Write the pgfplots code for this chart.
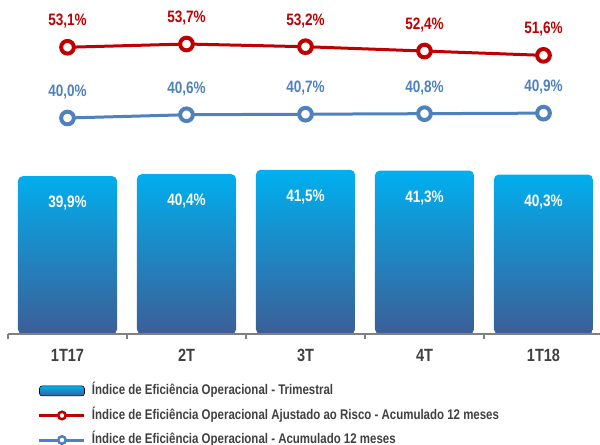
\documentclass[border=0pt]{standalone}
\usepackage{fontspec}
\setmainfont{Liberation Sans}[FakeStretch=0.82]
\usepackage{pgfplots}
\pgfplotsset{compat=1.18}
\definecolor{barTop}{HTML}{00B0F0}
\definecolor{barBot}{HTML}{3C5E96}
\definecolor{redL}{HTML}{C00000}
\definecolor{blueL}{HTML}{4F81BD}
\definecolor{txt}{HTML}{404040}
\definecolor{axisG}{HTML}{808080}
\newcommand\lblfont{\fontsize{12.4}{14}\selectfont\bfseries}
\pgfkeys{/pgf/number format/.cd, use comma, fixed, fixed zerofill, precision=1, assume math mode=true}
\begin{document}
\begin{tikzpicture}[x=1pt,y=1pt]
\useasboundingbox (0,0) rectangle (450,333.75);
\begin{axis}[
  at={(6pt,83.25pt)}, anchor=south west,
  scale only axis, width=446.25pt, height=237.3pt,
  xmin=-0.5, xmax=4.5, ymin=0, ymax=80,
  axis x line*=bottom, axis y line=none,
  axis on top,
  x axis line style={draw=axisG, line width=1.1pt},
  xtick={0,1,2,3,4}, xticklabels={1T17,2T,3T,4T,1T18},
  major tick length=0pt,
  minor xtick={-0.5,0.5,1.5,2.5,3.5,4.5},
  minor tick length=4pt,
  tick align=outside,
  minor tick style={draw=axisG, line width=1.1pt},
  xticklabel style={anchor=center, yshift=-15.75pt, font=\fontsize{13.3}{15}\selectfont\bfseries, text=txt},
  ybar, bar width=74.25pt,
  nodes near coords={\pgfmathprintnumber{\pgfplotspointmeta}\%},
  every node near coord/.append style={anchor=center, yshift=-20.25pt, text=white, font=\lblfont},
  clip=false,
]
\addplot[draw=none, top color=barTop, bottom color=barBot, rounded corners=3.5pt]
  coordinates {(0,39.9) (1,40.4) (2,41.5) (3,41.3) (4,40.3)};
\end{axis}
\begin{axis}[
  at={(6pt,83.25pt)}, anchor=south west,
  scale only axis, width=446.25pt, height=237.3pt,
  xmin=-0.5, xmax=4.5, ymin=0, ymax=58.593,
  hide axis, clip=false,
  legend style={at={(0.0504,-0.160)}, anchor=north west, draw=none, fill=none,
    inner sep=0pt, outer sep=0pt, row sep=8.9pt, column sep=4.5pt,
    font=\fontsize{10.5}{12}\selectfont\bfseries, text=txt,
    nodes={inner sep=0pt, text height=7.5pt, text depth=2pt}},
  legend cell align=left,
]
\addlegendimage{legend image code/.code={\shade[top color=barTop, bottom color=barBot, rounded corners=2pt] (0pt,-3.75pt) rectangle (33.75pt,3.75pt);}}
\addlegendentry{Índice de Eficiência Operacional - Trimestral}
\addplot[redL, line width=2.25pt, mark=*, mark size=4.76pt,
  mark options={fill=white, draw=redL, line width=3pt},
  nodes near coords={\pgfmathprintnumber{\pgfplotspointmeta}\%},
  every node near coord/.append style={text=redL, anchor=center, yshift=19.5pt, font=\lblfont},
  legend image code/.code={\draw[redL, line width=2.25pt] (0pt,0pt) -- (33.75pt,0pt);
    \draw[redL, fill=white, line width=1.9pt] (16.875pt,0pt) circle (2.8pt);}]
  coordinates {(0,53.1) (1,53.7) (2,53.2) (3,52.4) (4,51.6)};
\addlegendentry{Índice de Eficiência Operacional Ajustado ao Risco - Acumulado 12 meses}
\addplot[blueL, line width=2.25pt, mark=*, mark size=4.76pt,
  mark options={fill=white, draw=blueL, line width=3pt},
  nodes near coords={\pgfmathprintnumber{\pgfplotspointmeta}\%},
  every node near coord/.append style={text=blueL, anchor=center, yshift=19.5pt, font=\lblfont},
  legend image code/.code={\draw[blueL, line width=2.25pt] (0pt,0pt) -- (33.75pt,0pt);
    \draw[blueL, fill=white, line width=1.9pt] (16.875pt,0pt) circle (2.8pt);}]
  coordinates {(0,40.0) (1,40.6) (2,40.7) (3,40.8) (4,40.9)};
\addlegendentry{Índice de Eficiência Operacional - Acumulado 12 meses}
\end{axis}
\end{tikzpicture}
\end{document}
